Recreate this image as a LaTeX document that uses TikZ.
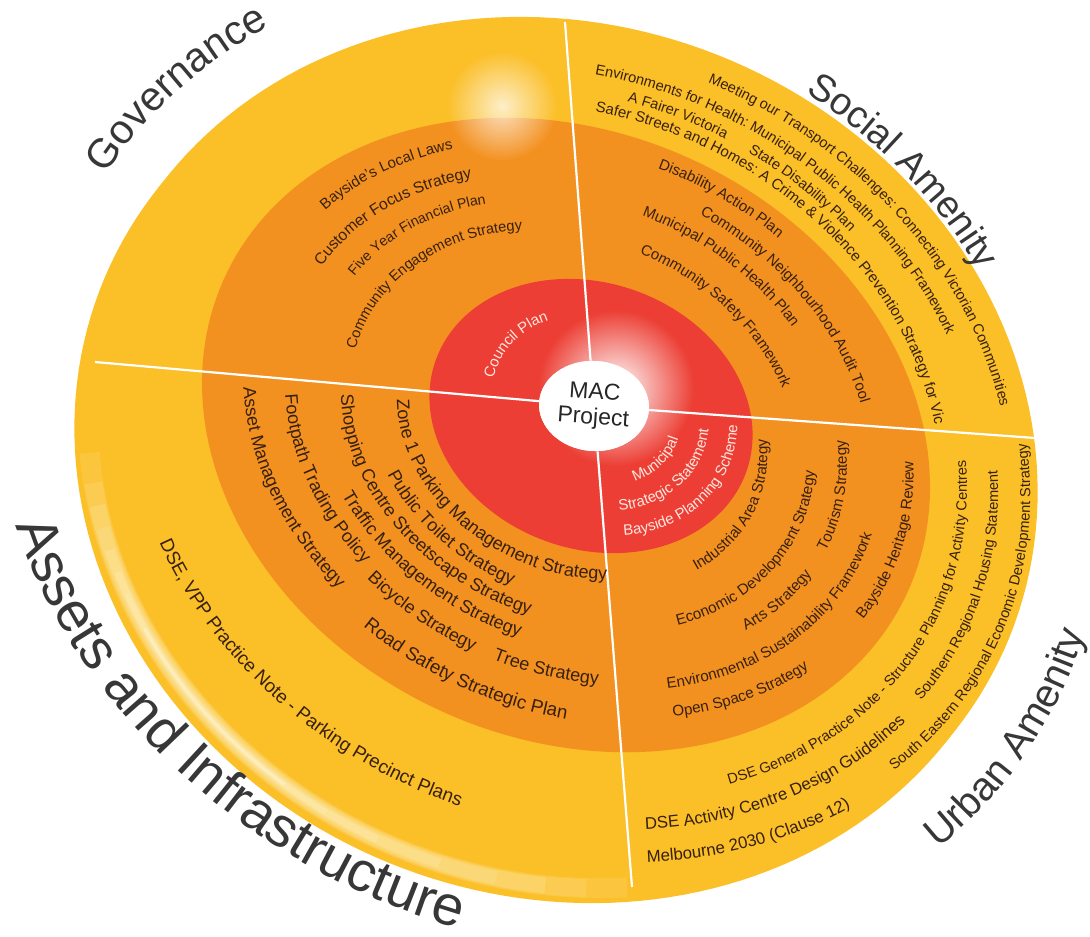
\documentclass[tikz,border=0pt]{standalone}
\usepackage{fontspec}
\setmainfont{Liberation Sans}
\usetikzlibrary{decorations.text,fadings,shapes.geometric}
\definecolor{yel}{RGB}{251,191,40}
\definecolor{org}{RGB}{243,145,32}
\definecolor{redd}{RGB}{236,62,52}
\definecolor{cream}{RGB}{255,240,190}
\definecolor{txt}{RGB}{55,32,15}
\definecolor{lbl}{RGB}{55,55,55}
\definecolor{wtxt}{RGB}{255,230,222}
\tikzfading[name=glowfade,inner color=transparent!0,outer color=transparent!100]
\newcommand\SetFam[4]{\def\fcx{#1}\def\fcy{#2}\def\fphi{#3}\def\fk{#4}}
\newcommand\ArcTxt[6]{%
  \path[decorate,decoration={text along path,text align=left,text color=#2,text={|#1|#6}}]
  plot[domain=0:1,samples=150,variable=\uu]
  ({\fcx+(#3)*cos((#4)+((#5)-(#4))*\uu)*cos(\fphi)-\fk*(#3)*sin((#4)+((#5)-(#4))*\uu)*sin(\fphi)},
   {\fcy+(#3)*cos((#4)+((#5)-(#4))*\uu)*sin(\fphi)+\fk*(#3)*sin((#4)+((#5)-(#4))*\uu)*cos(\fphi)});}
\newcommand\ElPath[5]{plot[domain=0:360,samples=200,variable=\uu]
  ({#1+(#4)*cos(\uu)*cos(#3)-(#5)*sin(\uu)*sin(#3)},{#2+(#4)*cos(\uu)*sin(#3)+(#5)*sin(\uu)*cos(#3)}) -- cycle}
\newcommand\ElArc[7]{plot[domain=#6:#7,samples=100,variable=\uu]
  ({#1+(#4)*cos(\uu)*cos(#3)-(#5)*sin(\uu)*sin(#3)},{#2+(#4)*cos(\uu)*sin(#3)+(#5)*sin(\uu)*cos(#3)})}
\def\FU{\fontsize{7.5}{9}\selectfont}
\def\FL{\fontsize{9}{10}\selectfont}
\def\FR{\fontsize{7.6}{9}\selectfont}
\def\FY{\fontsize{7.3}{9}\selectfont}
\def\FYS{\fontsize{7.5}{9}\selectfont}
\def\FYA{\fontsize{9.4}{11}\selectfont}
\def\FYB{\fontsize{8.4}{10}\selectfont}
\def\FYC{\fontsize{7.3}{9}\selectfont}
\def\FW{\fontsize{7.5}{9}\selectfont}
\begin{document}
\begin{tikzpicture}[x=0.5pt,y=-0.5pt,
  divider/.style={white,line width=1.1pt},
  glow/.style={white,path fading=glowfade},
  rimlight/.style={cream,line cap=butt}]
\useasboundingbox (0,0) rectangle (1090,936);
% disc rim and top face
\fill[yel] \ElPath{552}{465}{22}{485}{430};
\fill[yel] \ElPath{560}{455}{22}{485}{430};
\begin{scope}
  \clip \ElPath{552}{465}{22}{485}{430};
  \draw[rimlight,line width=10pt,opacity=0.15] \ElArc{559}{457}{22}{478}{423}{62}{156};
  \draw[rimlight,line width=9pt,opacity=0.15] \ElArc{559}{457}{22}{478}{423}{67}{152};
  \draw[rimlight,line width=8pt,opacity=0.2] \ElArc{559}{457}{22}{478}{423}{72}{149};
  \draw[rimlight,line width=6.5pt,opacity=0.2] \ElArc{559}{457}{22}{478}{423}{78}{146};
  \draw[rimlight,line width=5pt,opacity=0.25] \ElArc{559}{457}{22}{478}{423}{85}{143};
  \draw[rimlight,line width=3.5pt,opacity=0.3] \ElArc{559}{457}{22}{478}{423}{93}{140};
  \draw[rimlight,line width=2.5pt,opacity=0.3] \ElArc{559}{457}{22}{478}{423}{100}{137};
  \draw[white,line width=1.5pt,opacity=0.3] \ElArc{559}{457}{22}{478}{423}{106}{132};
\end{scope}
\fill[org] \ElPath{566}{435}{25}{376}{303};
\fill[redd] \ElPath{591}{416}{20}{165}{133};
% glows
\fill[glow,opacity=0.75] (502,106) circle[radius=55];
\fill[glow] (616,388) circle[radius=78];
% dividers
\coordinate (vt) at (565,22);
\coordinate (vb) at (632,887);
\coordinate (hl) at (95,362);
\coordinate (hr) at (1035,438);
\node[ellipse,fill=white,minimum width=55pt,minimum height=45pt,inner sep=0pt,rotate=-4] (mac) at (594,406) {};
\draw[divider] (vt) -- (mac);
\draw[divider] (mac) -- (vb);
\draw[divider] (hl) -- (mac);
\draw[divider] (mac) -- (hr);
\node[ellipse,fill=white,minimum width=55pt,minimum height=45pt,inner sep=0pt,rotate=-4,align=center,
  font=\fontsize{11.5}{12.5}\selectfont,text=black!85] (mac2) at (594,406) {MAC\\Project};
% orange band texts
\SetFam{575}{425}{25}{0.8}
\ArcTxt{\FU}{txt}{336}{-160.7}{-80}{Bayside's Local Laws}
\ArcTxt{\fontsize{7.9}{9}\selectfont}{txt}{300}{-171.3}{-90}{Customer Focus Strategy}
\ArcTxt{\fontsize{7.1}{9}\selectfont}{txt}{268}{-168.8}{-90}{Five Year Financial Plan}
\ArcTxt{\fontsize{7.3}{9}\selectfont}{txt}{233}{-187.4}{-100}{Community Engagement Strategy}
\ArcTxt{\FU}{txt}{336}{-95.7}{-10}{Disability Action Plan}
\ArcTxt{\FU}{txt}{305}{-85.4}{0}{Community Neighbourhood Audit Tool}
\ArcTxt{\FU}{txt}{274}{-95.8}{-10}{Municipal Public Health Plan}
\ArcTxt{\FU}{txt}{229}{-93.5}{-5}{Community Safety Framework}
\ArcTxt{\FL}{txt}{184}{159.2}{40}{Zone 1 Parking Management Strategy}
\ArcTxt{\FL}{txt}{215}{134.0}{40}{Public Toilet Strategy}
\ArcTxt{\FL}{txt}{242}{158.4}{40}{Shopping Centre Streetscape Strategy}
\ArcTxt{\FL}{txt}{272}{131.9}{40}{Traffic Management Strategy}
\ArcTxt{\FL}{txt}{300}{156.7}{100}{Footpath Trading Policy}
\ArcTxt{\FL}{txt}{310}{113.5}{60}{Bicycle Strategy}
\ArcTxt{\FL}{txt}{310}{85.5}{30}{Tree Strategy}
\ArcTxt{\FL}{txt}{343}{157.2}{100}{Asset Management Strategy}
\ArcTxt{\fontsize{9.4}{11}\selectfont}{txt}{357}{107.4}{40}{Road Safety Strategic Plan}
\ArcTxt{\FR}{txt}{199}{30.4}{-60}{Industrial Area Strategy}
\ArcTxt{\FR}{txt}{248}{44.2}{-60}{Economic Development Strategy}
\ArcTxt{\FR}{txt}{281}{30.6}{-20}{Arts Strategy}
\ArcTxt{\FR}{txt}{281}{2.3}{-60}{Tourism Strategy}
\ArcTxt{\FR}{txt}{317}{52}{-60}{Environmental Sustainability Framework}
\ArcTxt{\FR}{txt}{350}{52.7}{0}{Open Space Strategy}
\ArcTxt{\FR}{txt}{350}{11.2}{-60}{Bayside Heritage Review}
% yellow band texts
\SetFam{565}{440}{25}{0.84}
\ArcTxt{\FY}{txt}{458}{-92.7}{-10}{Meeting our Transport Challenges: Connecting Victorian Communities}
\ArcTxt{\FY}{txt}{429}{-107.3}{-20}{Environments for Health: Municipal Public Health Planning Framework}
\ArcTxt{\FY}{txt}{406}{-102.3}{-70}{A Fairer Victoria}
\ArcTxt{\FY}{txt}{405}{-83.7}{-20}{State Disability Plan}
\ArcTxt{\FYS}{txt}{386}{-106.8}{-10}{Safer Streets and Homes: A Crime {\&} Violence Prevention Strategy for Vic}
\ArcTxt{\FYA}{txt}{452}{135.8}{50}{DSE, VPP Practice Note - Parking Precinct Plans}
\ArcTxt{\FYC}{txt}{413}{44.5}{-60}{DSE General Practice Note - Structure Planning for Activity Centres}
\ArcTxt{\FYB}{txt}{448}{58}{0}{DSE Activity Centre Design Guidelines}
\ArcTxt{\FYC}{txt}{445}{13.3}{-60}{Southern Regional Housing Statement}
\ArcTxt{\FYB}{txt}{485}{58.6}{10}{Melbourne 2030 (Clause 12)}
\ArcTxt{\FYC}{txt}{478}{23.6}{-60}{South Eastern Regional Economic Development Strategy}
% red band texts
\SetFam{595}{408}{25}{0.85}
\ArcTxt{\FW}{wtxt}{106}{-190.6}{-100}{Council Plan}
\ArcTxt{\FW}{wtxt}{89}{41.1}{-60}{Municipal}
\ArcTxt{\FW}{wtxt}{117}{56.2}{-60}{Strategic Statement}
\ArcTxt{\FW}{wtxt}{146}{56.7}{-60}{Bayside Planning Scheme}
% outer labels
\SetFam{560}{455}{25}{0.89}
\ArcTxt{\fontsize{20.5}{24}\selectfont}{lbl}{535}{-172.5}{-100}{Governance}
\ArcTxt{\fontsize{19}{22}\selectfont}{lbl}{490}{-81.9}{-10}{Social Amenity}
\ArcTxt{\fontsize{20}{24}\selectfont}{lbl}{555}{23.5}{-60}{Urban Amenity}
\SetFam{560}{455}{25}{0.82}
\ArcTxt{\fontsize{28}{32}\selectfont}{lbl}{586}{142.35}{40}{Assets and Infrastructure}
\end{tikzpicture}
\end{document}
